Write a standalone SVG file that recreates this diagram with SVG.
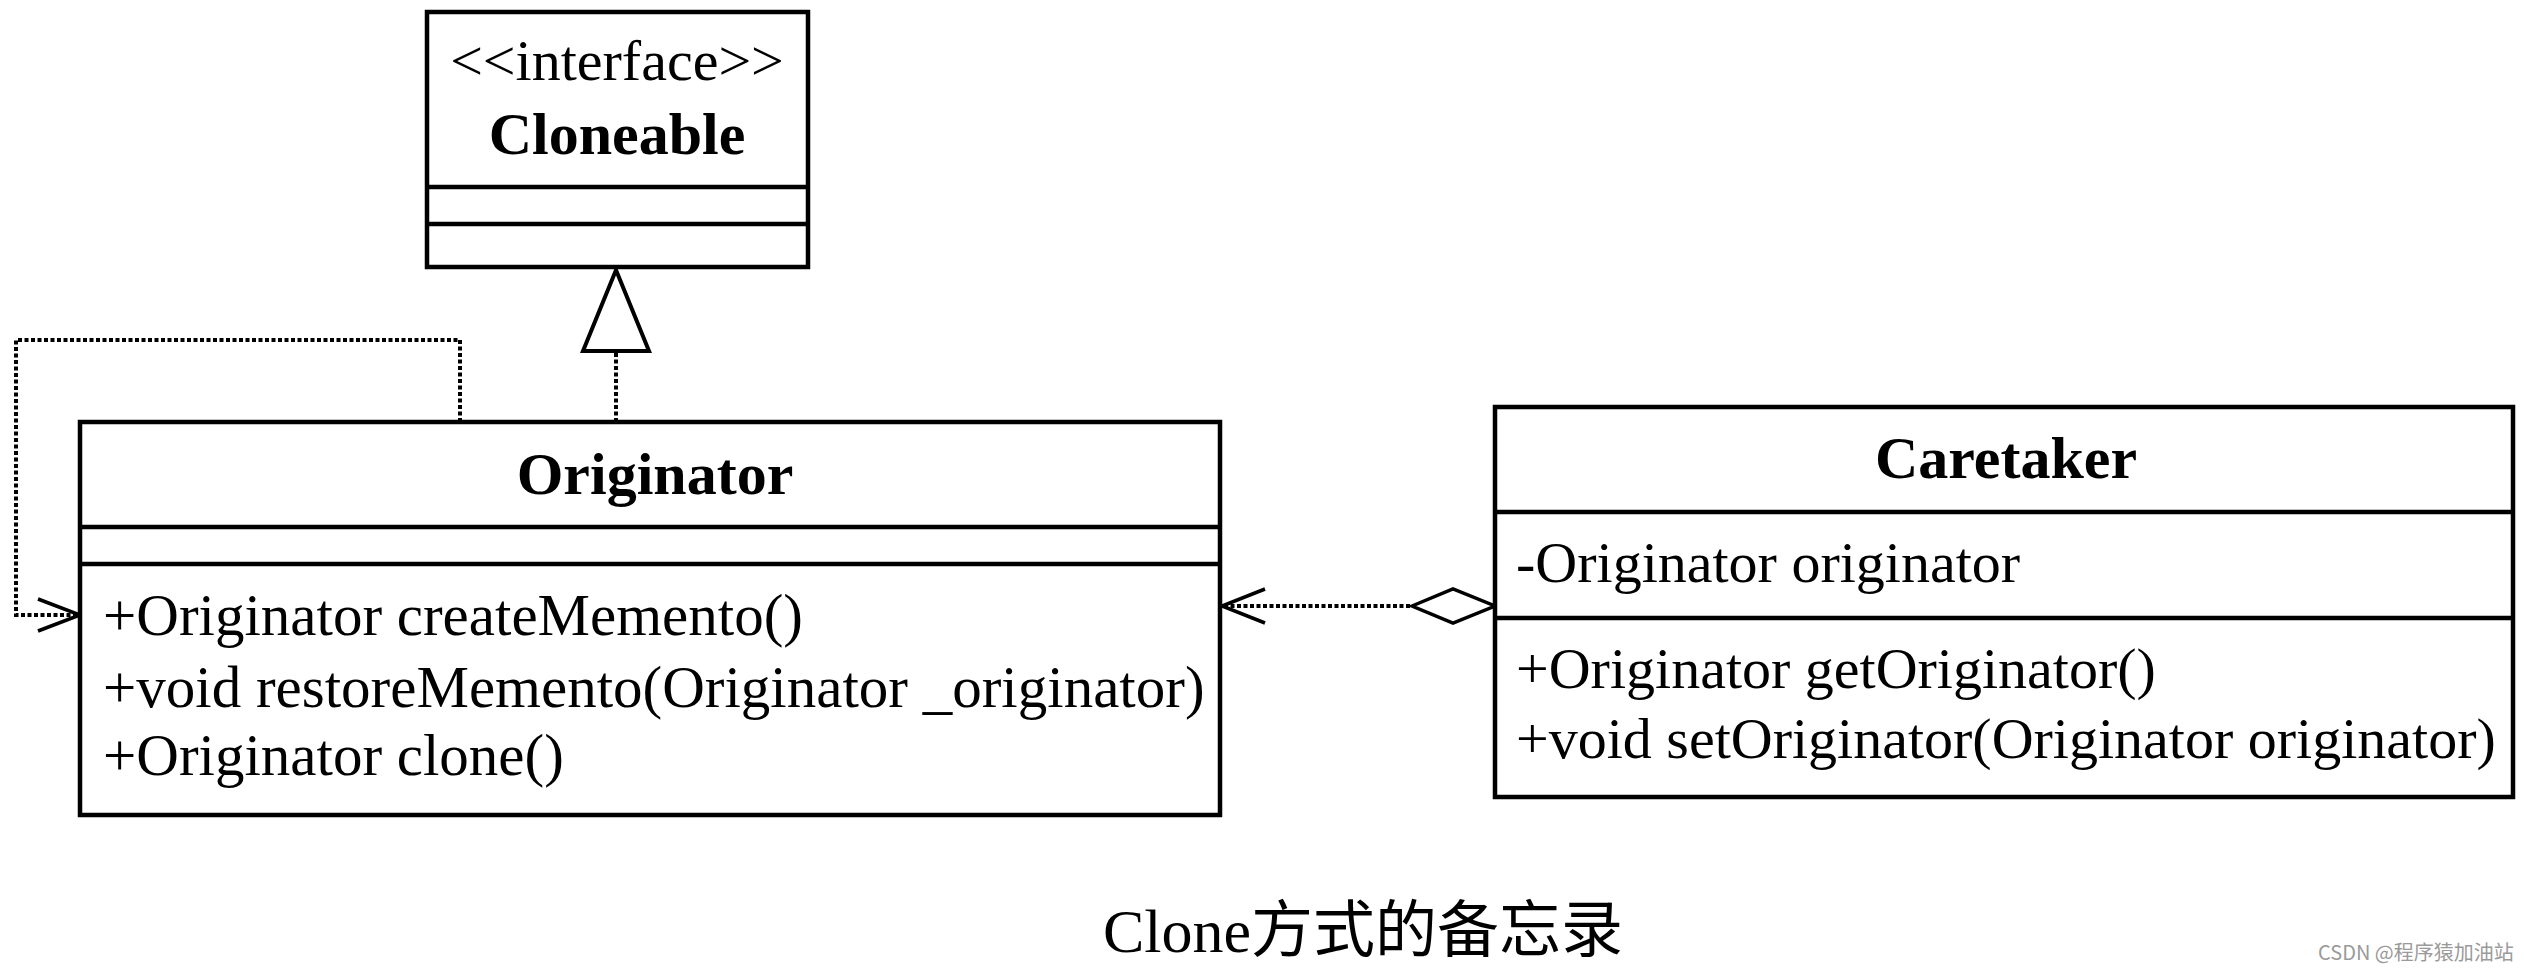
<svg xmlns="http://www.w3.org/2000/svg" width="2524" height="972" viewBox="0 0 2524 972">
<style>
.box{fill:#fff;stroke:#000;stroke-width:4.5}
.div{stroke:#000;stroke-width:4.5}
.t{font-family:"Liberation Serif","Noto Sans CJK SC",serif;font-size:58px;fill:#000}
.m{font-size:59px}
.b{font-weight:bold;font-size:60px}
.dot{fill:none;stroke:#000;stroke-width:4;stroke-dasharray:4 2.5}
.ln{fill:none;stroke:#000;stroke-width:3.5}
</style>
<rect width="2524" height="972" fill="#fff"/>
<g id="connectors">
  <path class="dot" d="M460,422 V340 H16 V615 H78"/>
  <path class="ln" d="M38,599 L80,615 L38,631"/>
  <path class="dot" d="M616,422 V351"/>
  <polygon points="616,270 649,351 583,351" fill="#fff" stroke="#000" stroke-width="4"/>
  <path class="dot" d="M1224,606 H1412" stroke-dasharray="3 1.5"/>
  <path class="ln" d="M1265,589 L1222,606 L1265,623"/>
  <polygon points="1412,606 1453,589 1495,606 1453,623" fill="#fff" stroke="#000" stroke-width="3.5"/>
</g>
<g id="cloneable">
  <rect class="box" x="427" y="12" width="381" height="255"/>
  <line class="div" x1="427" y1="187" x2="808" y2="187"/>
  <line class="div" x1="427" y1="224" x2="808" y2="224"/>
  <text class="t" x="617" y="80" text-anchor="middle">&lt;&lt;interface&gt;&gt;</text>
  <text class="t b" x="617" y="154" text-anchor="middle">Cloneable</text>
</g>
<g id="originator">
  <rect class="box" x="80" y="422" width="1140" height="393"/>
  <line class="div" x1="80" y1="527" x2="1220" y2="527"/>
  <line class="div" x1="80" y1="564" x2="1220" y2="564"/>
  <text class="t b" x="655" y="494" text-anchor="middle">Originator</text>
  <text class="t m" x="103" y="635">+Originator createMemento()</text>
  <text class="t m" x="103" y="707">+void restoreMemento(Originator _originator)</text>
  <text class="t m" x="103" y="775">+Originator clone()</text>
</g>
<g id="caretaker">
  <rect class="box" x="1495" y="407" width="1018" height="390"/>
  <line class="div" x1="1495" y1="512" x2="2513" y2="512"/>
  <line class="div" x1="1495" y1="618" x2="2513" y2="618"/>
  <text class="t b" x="2006" y="478" text-anchor="middle">Caretaker</text>
  <text class="t" x="1516" y="582">-Originator originator</text>
  <text class="t" x="1516" y="688">+Originator getOriginator()</text>
  <text class="t" x="1516" y="758">+void setOriginator(Originator originator)</text>
</g>
<g id="caption">
  <text class="t" x="1363" y="952" text-anchor="middle" style="font-size:62px">Clone方式的备忘录</text>
</g>
<g id="watermark">
  <text x="2318" y="960" font-family="'Noto Sans CJK SC','Noto Sans',sans-serif" font-size="20" fill="#9a9a9a">CSDN @程序猿加油站</text>
</g>
</svg>
